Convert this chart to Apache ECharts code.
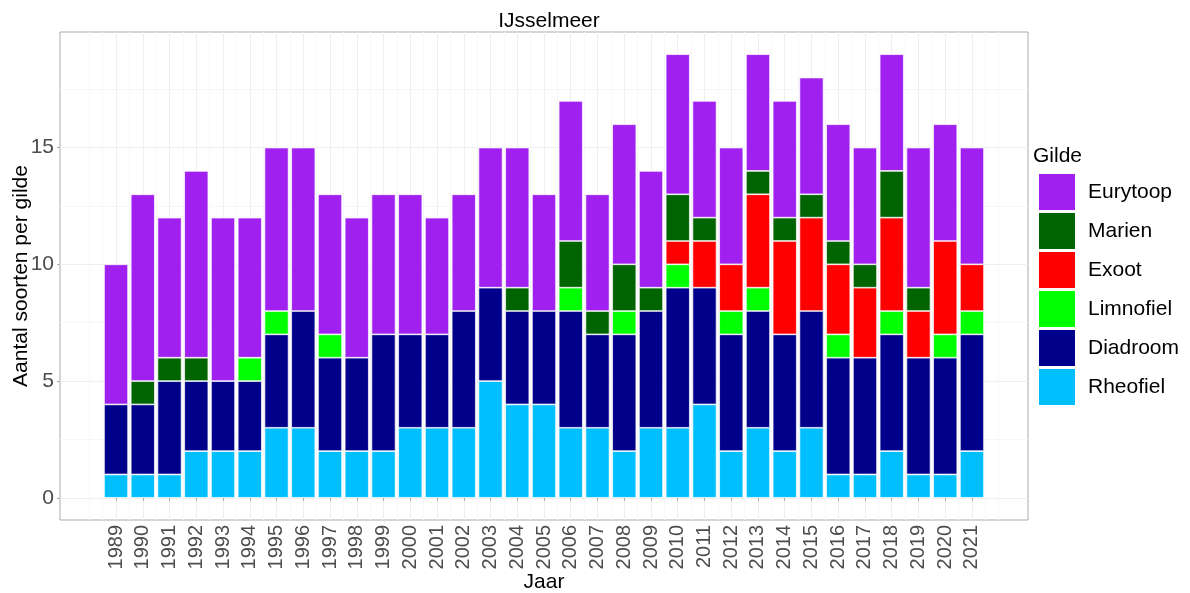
<!DOCTYPE html>
<html>
<head>
<meta charset="utf-8">
<script src="https://cdn.jsdelivr.net/npm/echarts@6/dist/echarts.min.js"></script>
<style>
  html, body { margin: 0; padding: 0; background: #fff; }
  #chart { width: 1190px; height: 593px; }
</style>
</head>
<body>
<div id="chart"></div>
<script>
// jaren en aantallen per gilde (onder naar boven gestapeld)
var years = [1989, 1990, 1991, 1992, 1993, 1994, 1995, 1996, 1997, 1998, 1999, 2000, 2001,
  2002, 2003, 2004, 2005, 2006, 2007, 2008, 2009, 2010, 2011, 2012, 2013, 2014, 2015,
  2016, 2017, 2018, 2019, 2020, 2021];
var rheofiel  = [1,1,1,2,2,2,3,3,2,2,2,3,3,3,5,4,4,3,3,2,3,3,4,2,3,2,3,1,1,2,1,1,2];
var diadroom  = [3,3,4,3,3,3,4,5,4,4,5,4,4,5,4,4,4,5,4,5,5,6,5,5,5,5,5,5,5,5,5,5,5];
var limnofiel = [0,0,0,0,0,1,1,0,1,0,0,0,0,0,0,0,0,1,0,1,0,1,0,1,1,0,0,1,0,1,0,1,1];
var exoot     = [0,0,0,0,0,0,0,0,0,0,0,0,0,0,0,0,0,0,0,0,0,1,2,2,4,4,4,3,3,4,2,4,2];
var marien    = [0,1,1,1,0,0,0,0,0,0,0,0,0,0,0,1,0,2,1,2,1,2,1,0,1,1,1,1,1,2,1,0,0];
var eurytoop  = [6,8,6,8,7,6,7,7,6,6,6,6,5,5,6,6,5,6,5,6,5,6,5,5,5,5,5,5,5,5,6,5,5];

var yTicks = [0, 5, 10, 15];
var yMinor = [2.5, 7.5, 12.5, 17.5];

var gilden = [
  { name: 'Rheofiel',  data: rheofiel,  color: '#00BFFF' },
  { name: 'Diadroom',  data: diadroom,  color: '#00008B' },
  { name: 'Limnofiel', data: limnofiel, color: '#00FF00' },
  { name: 'Exoot',     data: exoot,     color: '#FF0000' },
  { name: 'Marien',    data: marien,    color: '#006400' },
  { name: 'Eurytoop',  data: eurytoop,  color: '#A020F0' }
];

// paneel zoals ggplot: 5% uitbreiding rond de balken
var panel = { left: 60, top: 32, width: 968, height: 488 };
var xMin = years[0] - 0.45, xMax = years[years.length - 1] + 0.45;
var xPad = (xMax - xMin) * 0.05;
var xLo = xMin - xPad, xHi = xMax + xPad;
var yMax = 19, yPad = yMax * 0.05;
var pxPerYear = panel.width / (xHi - xLo);

// tweede grid voor de balken (categorie-as), uitgelijnd op de jaarschaal van het paneel
var barGrid = {
  left: panel.left + (years[0] - 0.5 - xLo) * pxPerYear,
  top: panel.top,
  width: years.length * pxPerYear,
  height: panel.height,
  outerBoundsMode: 'none'
};

var xMinorVals = [];
for (var h = years[0] - 1; h <= years[years.length - 1] + 1; h += 0.5) {
  if (years.indexOf(h) < 0) xMinorVals.push(h);
}

var font = 'Liberation Sans, Arial, sans-serif';
var chart = echarts.init(document.getElementById('chart'));

var series = gilden.map(function (g) {
  return {
    name: g.name,
    type: 'bar',
    stack: 'totaal',
    xAxisIndex: 2,
    yAxisIndex: 2,
    barWidth: '90%',
    itemStyle: { color: g.color, borderColor: '#fff', borderWidth: 0.7 },
    data: g.data.map(function (v) { return v > 0 ? v : '-'; })
  };
});

var option = {
  backgroundColor: '#fff',
  animation: false,
  textStyle: { fontFamily: font },
  title: [{
    text: 'IJsselmeer',
    left: 544, top: 6, textAlign: 'center',
    textStyle: { fontSize: 21, fontWeight: 'normal', color: '#000', fontFamily: font }
  }, {
    text: 'Gilde',
    left: 1033, top: 146, padding: 0,
    textStyle: { fontSize: 21, fontWeight: 'normal', color: '#000', fontFamily: font }
  }],
  legend: {
    orient: 'vertical',
    left: 1037, top: 172,
    padding: 0,
    itemWidth: 38, itemHeight: 38, itemGap: -1,
    icon: 'rect',
    data: gilden.map(function (g) { return g.name; }).reverse(),
    textStyle: { fontSize: 21, color: '#000', fontFamily: font, padding: [0, 0, 0, 7] }
  },
  grid: [{
    left: panel.left, top: panel.top, width: panel.width, height: panel.height,
    outerBoundsMode: 'none',
    show: true, borderColor: '#ababab', borderWidth: 1, backgroundColor: 'transparent'
  }, barGrid],
  xAxis: [{
    type: 'value',
    min: xLo, max: xHi,
    name: 'Jaar', nameLocation: 'middle', nameGap: 52, nameMoveOverlap: false,
    nameTextStyle: { fontSize: 21, color: '#000', fontFamily: font },
    axisLine: { show: false },
    axisTick: { show: true, customValues: years, length: 3, lineStyle: { color: '#ababab' } },
    axisLabel: {
      customValues: years, rotate: 90, fontSize: 20, color: '#4d4d4d', margin: 5,
      fontFamily: font, formatter: function (v) { return String(v); }
    },
    splitLine: { show: true, lineStyle: { color: '#efefef', width: 1 } }
  }, {
    type: 'value', position: 'bottom',
    min: xLo, max: xHi,
    axisLine: { show: false },
    axisTick: { show: false, customValues: xMinorVals },
    axisLabel: { show: false },
    splitLine: { show: true, lineStyle: { color: '#f7f7f7', width: 1 } }
  }, {
    type: 'category', gridIndex: 1,
    data: years.map(String),
    boundaryGap: true,
    show: false
  }],
  yAxis: [{
    type: 'value',
    min: -yPad, max: yMax + yPad,
    name: 'Aantal soorten per gilde', nameLocation: 'middle', nameGap: 28, nameMoveOverlap: false,
    nameTextStyle: { fontSize: 21, color: '#000', fontFamily: font },
    axisLine: { show: false },
    axisTick: { show: true, customValues: yTicks, length: 3, lineStyle: { color: '#ababab' } },
    axisLabel: { customValues: yTicks, fontSize: 21, color: '#4d4d4d', margin: 6, fontFamily: font },
    splitLine: { show: true, lineStyle: { color: '#efefef', width: 1 } }
  }, {
    type: 'value', position: 'left',
    min: -yPad, max: yMax + yPad,
    axisLine: { show: false },
    axisTick: { show: false, customValues: yMinor },
    axisLabel: { show: false },
    splitLine: { show: true, lineStyle: { color: '#f7f7f7', width: 1 } }
  }, {
    type: 'value', gridIndex: 1,
    min: -yPad, max: yMax + yPad,
    show: false
  }],
  series: series
};

chart.setOption(option);
</script>
</body>
</html>
